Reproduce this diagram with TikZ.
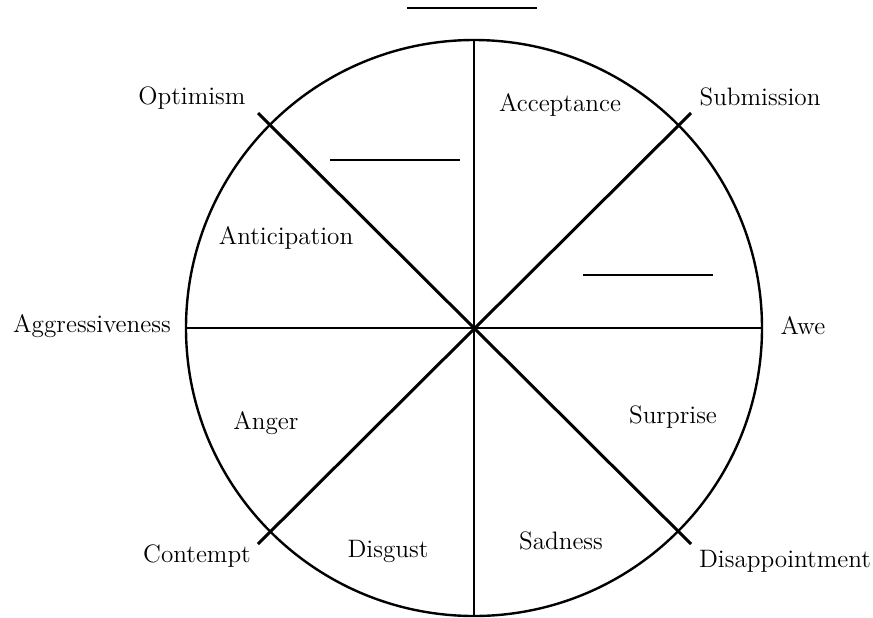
\documentclass[tikz,border=0pt]{standalone}
\usepackage{tikz}
\usetikzlibrary{positioning,calc}
\tikzset{
  emo/.style={font=\fontsize{12.6}{15}\selectfont, inner sep=0pt},
  rim/.style={line width=1.2pt},
  axis/.style={line width=1pt},
  spoke/.style={line width=1.5pt},
  blank/.style={line width=1.4pt},
}

\begin{document}
\begin{tikzpicture}[x=0.5pt, y=-0.5pt]

  \useasboundingbox (0,0) rectangle (873,617);

  % wheel and its spokes
  \coordinate (c) at (474,328);
  \draw[rim] (c) circle[radius=288];

  \coordinate (n)  at (474,40);
  \coordinate (s)  at (474,617);
  \coordinate (w)  at (186,328);
  \coordinate (e)  at (762,328);
  \coordinate (nw) at (258,113);
  \coordinate (se) at (691,544);
  \coordinate (ne) at (691,113);
  \coordinate (sw) at (258,544);

  \draw[axis] (n) -- (s);
  \draw[axis] (w) -- (e);
  \draw[spoke] (nw) -- (se);
  \draw[spoke] (ne) -- (sw);

  % blanks to fill in
  \coordinate (blank1l) at (407,8);   \coordinate (blank1r) at (537,8);
  \coordinate (blank2l) at (330,160); \coordinate (blank2r) at (460,160);
  \coordinate (blank3l) at (583,275); \coordinate (blank3r) at (713,275);
  \draw[blank] (blank1l) -- (blank1r);
  \draw[blank] (blank2l) -- (blank2r);
  \draw[blank] (blank3l) -- (blank3r);

  % emotions inside the wheel
  \node[emo] (accept)  at (560,105) {Acceptance};
  \node[emo] (anticip) at (286,238) {Anticipation};
  \node[emo] (anger)   at (266,423) {Anger};
  \node[emo] (surpr)   at (673,417) {Surprise};
  \node[emo] (disgust) at (388,551) {Disgust};
  \node[emo] (sad)     at (561,541) {Sadness};

  % dyads outside the wheel
  \node[emo] (optim)   at (192,98)  {Optimism};
  \node[emo] (submis)  at (760,97)  {Submission};
  \node[emo] (aggr)    at (92,326)  {Aggressiveness};
  \node[emo] (awe)     at (803,326) {Awe};
  \node[emo] (contempt) at (197,556) {Contempt};
  \node[emo] (disap)   at (785,561) {Disappointment};

\end{tikzpicture}
\end{document}
